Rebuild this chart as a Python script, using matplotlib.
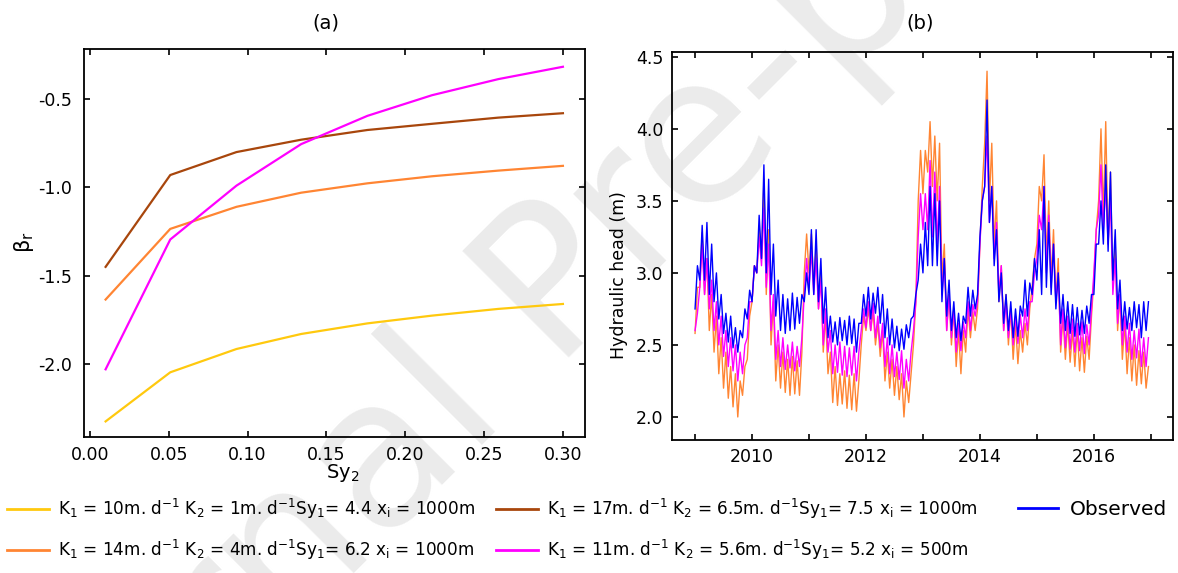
import numpy as np
import matplotlib
matplotlib.use("Agg")
import matplotlib.pyplot as plt
from matplotlib.lines import Line2D

plt.rcParams["font.family"] = "DejaVu Sans"
plt.rcParams["axes.unicode_minus"] = False
plt.rcParams["mathtext.fontset"] = "custom"
plt.rcParams["mathtext.rm"] = "DejaVu Sans"
plt.rcParams["mathtext.it"] = "DejaVu Sans"
plt.rcParams["mathtext.bf"] = "DejaVu Sans:bold"

# ---- panel (a): beta_r against Sy2 ----
sy2 = [0.01, 0.051, 0.093, 0.134, 0.176, 0.217, 0.259, 0.30]
beta_yellow = [-2.325, -2.047, -1.915, -1.83, -1.77, -1.726, -1.688, -1.66]
beta_orange = [-1.635, -1.235, -1.11, -1.03, -0.977, -0.937, -0.905, -0.878]
beta_brown = [-1.45, -0.93, -0.80, -0.73, -0.675, -0.64, -0.605, -0.58]
beta_magenta = [-2.03, -1.295, -0.99, -0.755, -0.595, -0.478, -0.387, -0.317]

# ---- panel (b): hydraulic head, monthly high / low (2009-2016) ----
obs_hi = [3.05, 3.33, 3.35, 3.20, 3.00, 2.85, 2.72, 2.70, 2.62, 2.60, 2.75, 2.88,
          3.05, 3.40, 3.75, 3.65, 3.20, 2.95, 2.85, 2.82, 2.86, 2.83, 2.85, 3.00,
          3.30, 3.30, 3.10, 2.90, 2.70, 2.66, 2.69, 2.67, 2.70, 2.68, 2.65, 2.85,
          2.90, 2.86, 2.90, 2.85, 2.75, 2.68, 2.63, 2.61, 2.64, 2.68, 2.85, 3.20,
          3.35, 3.60, 3.55, 3.50, 3.10, 2.95, 2.80, 2.72, 2.70, 2.90, 2.88, 2.85,
          3.50, 4.20, 3.60, 3.30, 3.00, 2.85, 2.80, 2.75, 2.77, 2.95, 2.93, 3.10,
          3.30, 3.60, 3.35, 3.20, 3.00, 2.85, 2.80, 2.78, 2.76, 2.74, 2.77, 2.85,
          3.20, 3.50, 3.75, 3.70, 3.30, 2.95, 2.80, 2.76, 2.80, 2.78, 2.80, 2.80]
obs_lo = [2.75, 2.95, 2.95, 2.85, 2.80, 2.68, 2.58, 2.52, 2.48, 2.45, 2.55, 2.68,
          2.80, 3.00, 3.10, 3.00, 2.85, 2.70, 2.60, 2.58, 2.60, 2.61, 2.65, 2.80,
          2.85, 2.85, 2.80, 2.65, 2.55, 2.52, 2.50, 2.53, 2.50, 2.51, 2.45, 2.65,
          2.70, 2.68, 2.72, 2.65, 2.55, 2.50, 2.48, 2.46, 2.47, 2.55, 2.70, 2.95,
          3.00, 3.05, 3.05, 3.05, 2.80, 2.70, 2.60, 2.55, 2.53, 2.65, 2.70, 2.75,
          3.25, 3.60, 3.35, 3.05, 2.80, 2.65, 2.60, 2.55, 2.56, 2.70, 2.70, 2.85,
          2.95, 2.85, 2.90, 2.85, 2.75, 2.65, 2.60, 2.58, 2.56, 2.57, 2.58, 2.65,
          2.85, 3.20, 3.20, 3.15, 2.95, 2.75, 2.60, 2.61, 2.60, 2.62, 2.55, 2.60]

or_hi = [2.90, 3.28, 3.10, 2.85, 2.70, 2.55, 2.45, 2.35, 2.30, 2.25, 2.35, 2.70,
         3.05, 3.30, 3.65, 3.30, 2.80, 2.50, 2.45, 2.40, 2.42, 2.39, 2.45, 3.27,
         3.27, 3.20, 3.00, 2.70, 2.45, 2.35, 2.30, 2.32, 2.29, 2.30, 2.25, 2.70,
         2.75, 2.73, 2.65, 2.60, 2.45, 2.40, 2.35, 2.30, 2.25, 2.30, 2.80, 3.85,
         3.85, 4.05, 3.95, 3.90, 3.20, 2.85, 2.75, 2.60, 2.60, 2.75, 2.73, 2.75,
         3.60, 4.40, 3.90, 3.50, 3.05, 2.85, 2.75, 2.65, 2.60, 2.65, 2.75, 3.10,
         3.60, 3.82, 3.50, 3.30, 3.10, 2.70, 2.65, 2.60, 2.61, 2.55, 2.56, 2.70,
         3.30, 4.00, 4.05, 3.70, 3.20, 2.85, 2.65, 2.55, 2.50, 2.46, 2.45, 2.35]
or_lo = [2.58, 2.90, 2.85, 2.60, 2.45, 2.30, 2.20, 2.13, 2.07, 2.00, 2.15, 2.40,
         2.80, 3.00, 3.10, 2.85, 2.50, 2.25, 2.20, 2.17, 2.15, 2.16, 2.15, 3.00,
         3.00, 2.90, 2.75, 2.45, 2.30, 2.10, 2.08, 2.09, 2.06, 2.05, 2.04, 2.50,
         2.60, 2.60, 2.50, 2.42, 2.25, 2.20, 2.15, 2.12, 2.00, 2.10, 2.50, 3.50,
         3.55, 3.70, 3.60, 3.50, 2.95, 2.60, 2.50, 2.35, 2.30, 2.45, 2.55, 2.60,
         3.20, 3.90, 3.50, 3.20, 2.80, 2.60, 2.50, 2.40, 2.37, 2.45, 2.50, 2.90,
         3.20, 3.50, 3.10, 2.95, 2.80, 2.45, 2.40, 2.38, 2.35, 2.32, 2.31, 2.40,
         2.95, 3.50, 3.40, 3.20, 2.90, 2.60, 2.40, 2.30, 2.25, 2.22, 2.23, 2.20]

mg_hi = [2.72, 3.20, 3.10, 2.95, 2.80, 2.70, 2.60, 2.55, 2.50, 2.45, 2.50, 2.80,
         3.05, 3.25, 3.45, 3.20, 2.85, 2.60, 2.55, 2.50, 2.52, 2.49, 2.55, 3.10,
         3.15, 3.10, 2.95, 2.75, 2.60, 2.50, 2.52, 2.49, 2.48, 2.49, 2.45, 2.75,
         2.80, 2.79, 2.70, 2.65, 2.55, 2.50, 2.45, 2.46, 2.40, 2.45, 2.80, 3.55,
         3.55, 3.78, 3.70, 3.60, 3.10, 2.85, 2.75, 2.65, 2.66, 2.80, 2.78, 2.80,
         3.50, 3.95, 3.60, 3.35, 3.05, 2.80, 2.75, 2.70, 2.71, 2.75, 2.80, 3.00,
         3.40, 3.60, 3.40, 3.20, 3.00, 2.75, 2.70, 2.68, 2.65, 2.66, 2.64, 2.75,
         3.30, 3.75, 3.60, 3.50, 3.10, 2.85, 2.70, 2.65, 2.60, 2.61, 2.55, 2.55]
mg_lo = [2.60, 2.90, 2.85, 2.75, 2.60, 2.50, 2.42, 2.35, 2.32, 2.25, 2.30, 2.55,
         2.80, 3.00, 3.05, 2.90, 2.60, 2.40, 2.35, 2.33, 2.34, 2.32, 2.35, 2.85,
         2.90, 2.85, 2.75, 2.50, 2.45, 2.30, 2.31, 2.29, 2.28, 2.29, 2.25, 2.60,
         2.62, 2.60, 2.55, 2.48, 2.35, 2.30, 2.28, 2.26, 2.20, 2.25, 2.60, 3.25,
         3.30, 3.30, 3.25, 3.20, 2.85, 2.60, 2.55, 2.45, 2.46, 2.55, 2.60, 2.70,
         3.20, 3.60, 3.35, 3.10, 2.85, 2.60, 2.55, 2.50, 2.51, 2.55, 2.60, 2.80,
         3.10, 3.30, 3.00, 2.90, 2.80, 2.50, 2.48, 2.47, 2.45, 2.46, 2.44, 2.50,
         3.00, 3.40, 3.30, 3.20, 2.85, 2.65, 2.50, 2.45, 2.40, 2.41, 2.35, 2.35]

labels = [r"K$_1$ = 10m. d$^{-1}$ K$_2$ = 1m. d$^{-1}$Sy$_1$= 4.4 x$_i$ = 1000m",
          r"K$_1$ = 14m. d$^{-1}$ K$_2$ = 4m. d$^{-1}$Sy$_1$= 6.2 x$_i$ = 1000m",
          r"K$_1$ = 17m. d$^{-1}$ K$_2$ = 6.5m. d$^{-1}$Sy$_1$= 7.5 x$_i$ = 1000m",
          r"K$_1$ = 11m. d$^{-1}$ K$_2$ = 5.6m. d$^{-1}$Sy$_1$= 5.2 x$_i$ = 500m",
          "Observed"]

c_yellow = "#ffc90e"
c_orange = "#ff8533"
c_brown = "#a8460c"
c_magenta = "#ff00ff"
c_blue = "#0000ff"


def zigzag(lo, hi):
    # low at start of each month, high half a month later
    return np.column_stack((lo, hi)).ravel()


t = 2009 + np.arange(2 * len(obs_hi)) / 24.0

fig = plt.figure(figsize=(11.78, 5.73), dpi=100)

# watermark
fig.text(575 / 1178, 1 - 282 / 573, "Journal Pre-proof", rotation=45, rotation_mode="anchor",
         ha="center", va="center", fontsize=148, color="#ebebeb", zorder=-5)

ax1 = fig.add_axes([0.0709, 0.2365, 0.4257, 0.6775])
ax2 = fig.add_axes([0.5702, 0.2321, 0.4256, 0.6763])
for ax in (ax1, ax2):
    ax.set_facecolor("none")
    for s in ax.spines.values():
        s.set_linewidth(1.3)
    ax.tick_params(direction="in", top=True, right=True, length=4, width=1.2,
                   labelsize=12.5, pad=6)

ax1.plot(sy2, beta_yellow, color=c_yellow, lw=1.6)
ax1.plot(sy2, beta_orange, color=c_orange, lw=1.6)
ax1.plot(sy2, beta_brown, color=c_brown, lw=1.6)
ax1.plot(sy2, beta_magenta, color=c_magenta, lw=1.6)
ax1.set_xlim(-0.004, 0.314)
ax1.set_ylim(-2.416, -0.218)
ax1.set_xticks([0.0, 0.05, 0.10, 0.15, 0.20, 0.25, 0.30])
ax1.set_xticklabels(["0.00", "0.05", "0.10", "0.15", "0.20", "0.25", "0.30"])
ax1.set_yticks([-2.0, -1.5, -1.0, -0.5])
ax1.set_yticklabels(["-2.0", "-1.5", "-1.0", "-0.5"])
ax1.tick_params(axis="y", pad=8)

ax2.plot(t, zigzag(or_lo, or_hi), color=c_orange, lw=1.0)
ax2.plot(t, zigzag(mg_lo, mg_hi), color=c_magenta, lw=1.0)
ax2.plot(t, zigzag(obs_lo, obs_hi), color=c_blue, lw=1.0)
ax2.set_xlim(2008.59, 2017.39)
ax2.set_ylim(1.84, 4.53)
years = list(range(2009, 2018))
ax2.set_xticks(years)
ax2.set_xticklabels([str(y) if y % 2 == 0 else "" for y in years])
ax2.set_yticks([2.0, 2.5, 3.0, 3.5, 4.0, 4.5])

fig.text(326 / 1178, 1 - 23 / 573, "(a)", ha="center", va="center", fontsize=14)
fig.text(920 / 1178, 1 - 23 / 573, "(b)", ha="center", va="center", fontsize=14)
fig.text(24 / 1178, 1 - 242 / 573, r"$\beta_\mathrm{r}$", rotation=90,
         ha="center", va="center", fontsize=15)
fig.text(343 / 1178, 1 - 473 / 573, r"Sy$_2$", ha="center", va="center", fontsize=14)
fig.text(619 / 1178, 1 - 275 / 573, "Hydraulic head (m)", rotation=90,
         ha="center", va="center", fontsize=12.5)

cols = [c_yellow, c_orange, c_brown, c_magenta, c_blue]
handles = [Line2D([], [], color=c, lw=2) for c in cols]
leg_kw = dict(frameon=False, loc="upper left", borderpad=0, borderaxespad=0,
              handlelength=2.5, handletextpad=0.5, labelspacing=1.0,
              prop={"family": "DejaVu Sans", "size": 12.2})
fig.legend(handles[0:2], labels[0:2], bbox_to_anchor=(7 / 1178, 1 - 497 / 573), **leg_kw)
fig.legend(handles[2:4], labels[2:4], bbox_to_anchor=(496 / 1178, 1 - 497 / 573), **leg_kw)
obs_kw = dict(leg_kw, handlelength=2.0, handletextpad=0.6,
              prop={"family": "DejaVu Sans", "size": 14.5})
fig.legend(handles[4:5], labels[4:5], bbox_to_anchor=(1018 / 1178, 1 - 500 / 573), **obs_kw)

fig.savefig("out.png", dpi=100)
